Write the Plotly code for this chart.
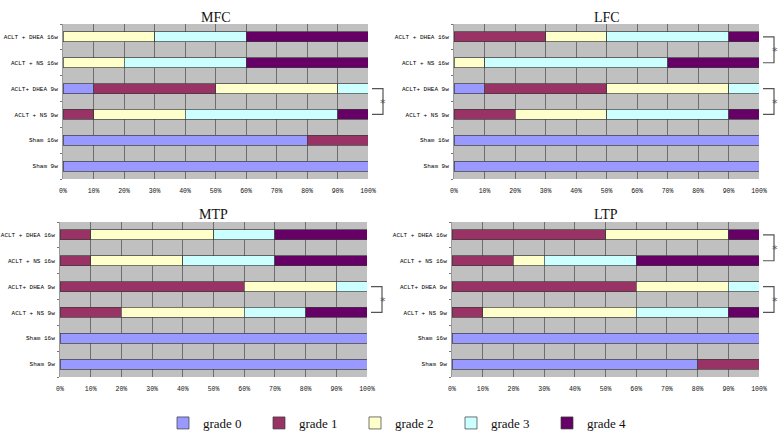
import plotly.graph_objects as go

W, H = 778, 432

groups = ["ACLT + DHEA 16w", "ACLT + NS 16w", "ACLT+ DHEA 9w", "ACLT + NS 9w", "Sham 16w", "Sham 9w"]
grades = ["grade 0", "grade 1", "grade 2", "grade 3", "grade 4"]
colors = ["#9999FF", "#993366", "#FFFFCC", "#CCFFFF", "#660066"]
tick_vals = [0, 10, 20, 30, 40, 50, 60, 70, 80, 90, 100]
tick_text = ["0%", "10%", "20%", "30%", "40%", "50%", "60%", "70%", "80%", "90%", "100%"]

# percentages per group (rows in 'groups' order), one list per grade
MFC = {
    "grade 0": [0, 0, 10, 0, 80, 100],
    "grade 1": [0, 0, 40, 10, 20, 0],
    "grade 2": [30, 20, 40, 30, 0, 0],
    "grade 3": [30, 40, 10, 50, 0, 0],
    "grade 4": [40, 40, 0, 10, 0, 0],
}
LFC = {
    "grade 0": [0, 0, 10, 0, 100, 100],
    "grade 1": [30, 0, 40, 20, 0, 0],
    "grade 2": [20, 10, 40, 30, 0, 0],
    "grade 3": [40, 60, 10, 40, 0, 0],
    "grade 4": [10, 30, 0, 10, 0, 0],
}
MTP = {
    "grade 0": [0, 0, 0, 0, 100, 100],
    "grade 1": [10, 10, 60, 20, 0, 0],
    "grade 2": [40, 30, 30, 40, 0, 0],
    "grade 3": [20, 30, 10, 20, 0, 0],
    "grade 4": [30, 30, 0, 20, 0, 0],
}
LTP = {
    "grade 0": [0, 0, 0, 0, 100, 80],
    "grade 1": [50, 20, 60, 10, 0, 20],
    "grade 2": [40, 10, 30, 50, 0, 0],
    "grade 3": [0, 30, 10, 30, 0, 0],
    "grade 4": [10, 40, 0, 10, 0, 0],
}
# significance brackets: pairs of group names
sig_MFC = [("ACLT+ DHEA 9w", "ACLT + NS 9w")]
sig_LFC = [("ACLT + DHEA 16w", "ACLT + NS 16w"), ("ACLT+ DHEA 9w", "ACLT + NS 9w")]
sig_MTP = [("ACLT+ DHEA 9w", "ACLT + NS 9w")]
sig_LTP = [("ACLT + DHEA 16w", "ACLT + NS 16w"), ("ACLT+ DHEA 9w", "ACLT + NS 9w")]

panels = [
    ("MFC", MFC, sig_MFC, (63, 368), (24, 179)),
    ("LFC", LFC, sig_LFC, (454, 759), (24, 179)),
    ("MTP", MTP, sig_MTP, (60, 367), (222, 377)),
    ("LTP", LTP, sig_LTP, (452, 759), (222, 377)),
]

cat_order = list(reversed(groups))  # bottom to top

fig = go.Figure()
shapes = []
annotations = []
for k, (title, data, sigs, (px0, px1), (py0, py1)) in enumerate(panels):
    ax = "" if k == 0 else str(k + 1)
    xd = [px0 / W, px1 / W]
    yd = [1 - py1 / H, 1 - py0 / H]
    for gi, g in enumerate(grades):
        fig.add_trace(go.Bar(
            y=groups, x=data[g], orientation="h", name=g,
            marker=dict(color=colors[gi], line=dict(color="#3a3a3a", width=0.7)),
            xaxis="x" + ax, yaxis="y" + ax,
            legendgroup=g, showlegend=(k == 0),
            hoverinfo="x+y+name",
        ))
    fig.layout["xaxis" + ax] = dict(
        domain=xd, range=[0, 100], tickvals=tick_vals, ticktext=tick_text,
        showgrid=True, gridcolor="#6e6e6e", gridwidth=1, zeroline=False,
        showline=False, ticks="", ticklabelstandoff=6, automargin=False,
        tickfont=dict(family="Liberation Mono", size=6.5, color="#111"),
        anchor="y" + ax, fixedrange=True,
    )
    fig.layout["yaxis" + ax] = dict(
        domain=yd, categoryorder="array", categoryarray=cat_order,
        range=[-0.5, 5.5], showgrid=False, zeroline=False,
        showline=True, linecolor="#9a9a9a", linewidth=1,
        ticks="outside", tickson="boundaries", ticklen=2, tickcolor="#777",
        ticklabelstandoff=3, automargin=False,
        tickfont=dict(family="Liberation Mono", size=6, color="#000"),
        anchor="x" + ax, fixedrange=True,
    )
    # plot background
    shapes.append(dict(type="rect", xref="paper", yref="paper", x0=xd[0], x1=xd[1],
                       y0=yd[0], y1=yd[1], fillcolor="#C0C0C0", line=dict(width=0),
                       layer="below"))
    annotations.append(dict(text=title, xref="paper", yref="paper",
                            x=(xd[0] + xd[1]) / 2, y=1 - (py0 - 7) / H,
                            xanchor="center", yanchor="middle", showarrow=False,
                            font=dict(family="Liberation Serif", size=14, color="#111")))

    def cat_y(name):
        i = cat_order.index(name)
        return yd[0] + (i + 0.5) / 6 * (yd[1] - yd[0])

    for a, b in sigs:
        ya, yb = cat_y(a), cat_y(b)
        xa = (px1 + 4) / W
        xb = (px1 + 15) / W
        shapes.append(dict(type="path", xref="paper", yref="paper",
                           path=f"M {xa},{ya} L {xb},{ya} L {xb},{yb} L {xa},{yb}",
                           line=dict(color="#555555", width=1.2)))
        annotations.append(dict(text="*", xref="paper", yref="paper",
                                x=xb + 0.5 / W, y=(ya + yb) / 2 - 2 / H, xanchor="center",
                                yanchor="middle", showarrow=False,
                                font=dict(family="DejaVu Sans", size=11, color="#555")))

fig.update_layout(
    width=W, height=H, margin=dict(l=0, r=0, t=0, b=0, autoexpand=False),
    paper_bgcolor="white", plot_bgcolor="rgba(0,0,0,0)",
    barmode="stack", bargap=0.615,
    shapes=shapes, annotations=annotations,
    legend=dict(orientation="h", x=163 / W, y=1 - 423 / H, xanchor="left", yanchor="middle",
                entrywidth=51, entrywidthmode="pixels", traceorder="normal",
                font=dict(family="Liberation Serif", size=13, color="#111"),
                itemclick=False, itemdoubleclick=False),
    showlegend=True,
)

fig.write_html("out.html", config={"displayModeBar": False},
               post_script="document.body.style.margin='0';document.body.style.overflow='hidden';")
